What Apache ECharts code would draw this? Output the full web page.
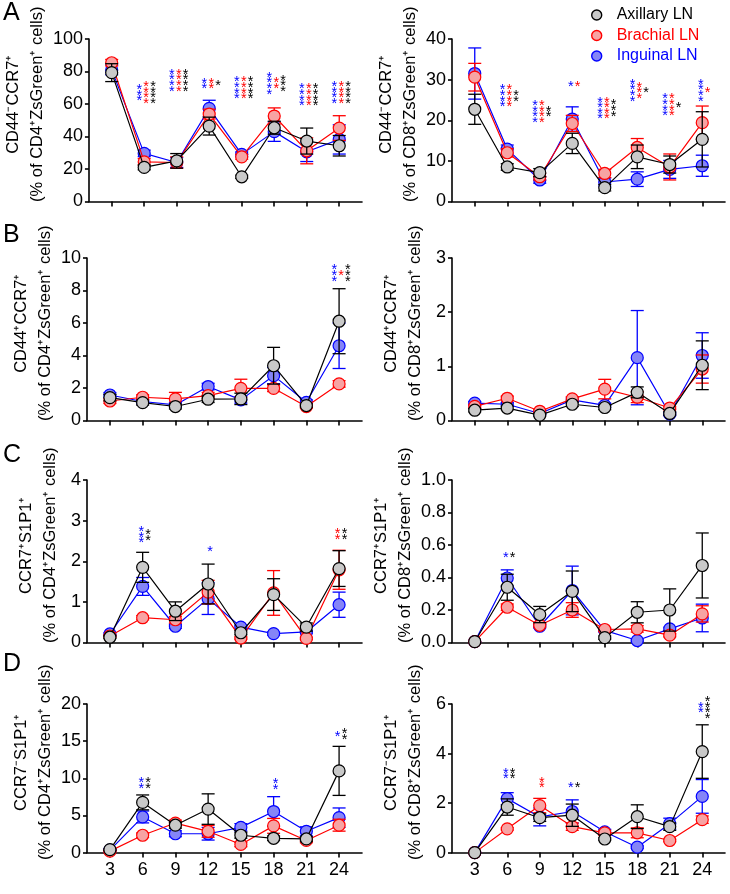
<!DOCTYPE html>
<html><head><meta charset="utf-8">
<script src="https://cdn.jsdelivr.net/npm/echarts@6/dist/echarts.min.js"></script>
<style>html,body{margin:0;padding:0;background:#fff}#c{width:730px;height:894px}</style>
</head><body><div id="c"></div>
<script>
// ---------------- DATA ----------------
const timepoints = [3, 6, 9, 12, 15, 18, 21, 24];
const seriesNames = ['Axillary LN', 'Brachial LN', 'Inguinal LN'];

// A left: CD44-CCR7+ (% of CD4+ZsGreen+)
const aCD4Axillary    = [79.3, 21.0, 25.0, 46.4, 15.2, 45.4, 37.2, 34.3];
const aCD4AxillarySem = [5.5, 1.5, 4.5, 5.5, 1.0, 4.0, 8.0, 6.3];
const aCD4Brachial    = [85.4, 24.4, 24.0, 53.8, 27.5, 52.6, 31.2, 45.2];
const aCD4BrachialSem = [2.0, 2.0, 3.5, 3.0, 1.5, 5.0, 8.0, 7.6];
const aCD4Inguinal    = [81.0, 29.6, 24.0, 57.3, 29.0, 43.0, 30.6, 38.2];
const aCD4InguinalSem = [3.0, 2.0, 3.0, 5.0, 1.5, 6.0, 6.0, 9.0];
// A right: CD44-CCR7+ (% of CD8+ZsGreen+)
const aCD8Axillary    = [22.7, 8.5, 7.1, 14.3, 3.4, 11.0, 9.1, 15.3];
const aCD8AxillarySem = [3.7, 0.8, 1.0, 2.5, 0.8, 2.9, 2.1, 6.8];
const aCD8Brachial    = [30.6, 12.0, 6.1, 19.2, 6.9, 13.3, 8.5, 19.4];
const aCD8BrachialSem = [3.4, 1.0, 0.8, 2.0, 1.0, 2.2, 3.2, 4.1];
const aCD8Inguinal    = [31.5, 12.9, 5.3, 20.3, 4.8, 5.5, 7.9, 8.8];
const aCD8InguinalSem = [6.3, 1.0, 0.8, 3.0, 1.0, 1.8, 2.2, 2.6];
// B left: CD44+CCR7+ (% of CD4+ZsGreen+)
const bCD4Axillary    = [1.41, 1.10, 0.86, 1.31, 1.33, 3.37, 0.92, 6.11];
const bCD4AxillarySem = [0.20, 0.15, 0.15, 0.20, 0.35, 1.13, 0.10, 2.00];
const bCD4Brachial    = [1.20, 1.43, 1.33, 1.53, 1.98, 1.98, 0.86, 2.25];
const bCD4BrachialSem = [0.15, 0.15, 0.40, 0.20, 0.56, 0.20, 0.10, 0.20];
const bCD4Inguinal    = [1.57, 1.17, 0.96, 2.09, 1.27, 2.76, 1.12, 4.60];
const bCD4InguinalSem = [0.15, 0.15, 0.15, 0.20, 0.20, 0.50, 0.15, 1.40];
// B right: CD44+CCR7+ (% of CD8+ZsGreen+)
const bCD8Axillary    = [0.19, 0.23, 0.10, 0.30, 0.24, 0.52, 0.13, 1.02];
const bCD8AxillarySem = [0.03, 0.03, 0.02, 0.04, 0.04, 0.10, 0.03, 0.45];
const bCD8Brachial    = [0.26, 0.41, 0.17, 0.40, 0.58, 0.43, 0.23, 0.95];
const bCD8BrachialSem = [0.03, 0.04, 0.03, 0.04, 0.18, 0.10, 0.03, 0.26];
const bCD8Inguinal    = [0.32, 0.30, 0.13, 0.38, 0.28, 1.16, 0.12, 1.20];
const bCD8InguinalSem = [0.03, 0.03, 0.02, 0.04, 0.04, 0.87, 0.03, 0.42];
// C left: CCR7+S1P1+ (% of CD4+ZsGreen+)
const cCD4Axillary    = [0.13, 1.85, 0.77, 1.44, 0.24, 1.18, 0.38, 1.82];
const cCD4AxillarySem = [0.03, 0.37, 0.23, 0.49, 0.05, 0.39, 0.10, 0.44];
const cCD4Brachial    = [0.16, 0.61, 0.56, 1.24, 0.11, 1.22, 0.10, 1.79];
const cCD4BrachialSem = [0.03, 0.05, 0.08, 0.29, 0.03, 0.55, 0.03, 0.48];
const cCD4Inguinal    = [0.21, 1.38, 0.40, 1.08, 0.38, 0.22, 0.26, 0.93];
const cCD4InguinalSem = [0.03, 0.22, 0.05, 0.39, 0.05, 0.04, 0.03, 0.31];
// C right: CCR7+S1P1+ (% of CD8+ZsGreen+)
const cCD8Axillary    = [0.005, 0.340, 0.172, 0.315, 0.030, 0.186, 0.200, 0.474];
const cCD8AxillarySem = [0.000, 0.080, 0.050, 0.125, 0.010, 0.065, 0.130, 0.200];
const cCD8Brachial    = [0.005, 0.217, 0.106, 0.200, 0.080, 0.084, 0.045, 0.176];
const cCD8BrachialSem = [0.000, 0.020, 0.010, 0.045, 0.010, 0.020, 0.010, 0.050];
const cCD8Inguinal    = [0.005, 0.397, 0.100, 0.320, 0.075, 0.012, 0.084, 0.151];
const cCD8InguinalSem = [0.000, 0.050, 0.010, 0.150, 0.010, 0.005, 0.010, 0.085];
// D left: CCR7-S1P1+ (% of CD4+ZsGreen+)
const dCD4Axillary    = [0.40, 6.76, 3.69, 5.86, 2.34, 1.93, 1.84, 11.0];
const dCD4AxillarySem = [0.10, 1.00, 0.40, 2.05, 0.40, 0.30, 0.30, 3.30];
const dCD4Brachial    = [0.20, 2.34, 3.98, 2.87, 1.10, 3.60, 1.64, 3.69];
const dCD4BrachialSem = [0.10, 0.30, 0.40, 0.80, 0.30, 1.00, 0.30, 0.80];
const dCD4Inguinal    = [0.33, 4.80, 2.54, 2.54, 3.40, 5.53, 2.87, 4.71];
const dCD4InguinalSem = [0.10, 0.80, 0.40, 0.85, 0.50, 2.00, 0.60, 1.30];
// D right: CCR7-S1P1+ (% of CD8+ZsGreen+)
const dCD8Axillary    = [0.00, 1.84, 1.41, 1.51, 0.55, 1.45, 1.05, 4.08];
const dCD8AxillarySem = [0.00, 0.33, 0.15, 0.45, 0.05, 0.48, 0.15, 1.08];
const dCD8Brachial    = [0.00, 0.96, 1.90, 1.05, 0.80, 0.80, 0.49, 1.33];
const dCD8BrachialSem = [0.00, 0.05, 0.29, 0.15, 0.10, 0.20, 0.05, 0.15];
const dCD8Inguinal    = [0.00, 2.18, 1.44, 1.66, 0.84, 0.22, 1.17, 2.27];
const dCD8InguinalSem = [0.00, 0.24, 0.36, 0.47, 0.10, 0.05, 0.22, 0.68];

// significance: [timepoint, y anchor (data units), # blue stars, # red stars, # black stars]
const aCD4Sig = [[6,67,3,4,4],[9,74.7,4,4,4],[12,72.7,2,2,1],[15,70,4,4,4],[18,72.8,4,2,3],[21,65.7,4,4,4],[24,67,4,4,4]];
const aCD8Sig = [[6,26,4,4,2],[9,22.2,4,4,2],[12,29,1,1,0],[15,23,4,4,3],[18,27.4,4,3,1],[21,23.8,4,4,1],[24,27.4,4,1,0]];
const bCD4Sig = [[24,9.08,3,1,3]];
const bCD8Sig = [];
const cCD4Sig = [[6,2.65,3,0,2],[12,2.31,1,0,0],[24,2.67,0,2,2]];
const cCD8Sig = [[6,0.536,1,0,1]];
const dCD4Sig = [[6,9.4,2,0,2],[18,9.2,2,0,0],[24,16,1,0,2]];
const dCD8Sig = [[6,3.2,2,0,2],[9,2.83,0,2,0],[12,2.74,1,0,1],[24,5.86,2,0,4]];

// y-axis ticks
const yTicksA4 = [0, 20, 40, 60, 80, 100];
const yTicksA8 = [0, 10, 20, 30, 40];
const yTicksB4 = [0, 2, 4, 6, 8, 10];
const yTicksB8 = [0, 1, 2, 3];
const yTicksC4 = [0, 1, 2, 3, 4];
const yTicksC8 = [0, 0.2, 0.4, 0.6, 0.8, 1.0];
const yTicksD4 = [0, 5, 10, 15, 20];
const yTicksD8 = [0, 2, 4, 6];

const rowTitles = ['CD44⁻CCR7⁺', 'CD44⁺CCR7⁺', 'CCR7⁺S1P1⁺', 'CCR7⁻S1P1⁺'];
const colTitles = ['(% of CD4⁺ZsGreen⁺ cells)', '(% of CD8⁺ZsGreen⁺ cells)'];
const panelLetters = ['A', 'B', 'C', 'D'];

// ---------------- BUILD ----------------
const panels = [
  {row:0,col:0,ticks:yTicksA4,dec:0,m:[aCD4Axillary,aCD4Brachial,aCD4Inguinal],e:[aCD4AxillarySem,aCD4BrachialSem,aCD4InguinalSem],sig:aCD4Sig},
  {row:0,col:1,ticks:yTicksA8,dec:0,m:[aCD8Axillary,aCD8Brachial,aCD8Inguinal],e:[aCD8AxillarySem,aCD8BrachialSem,aCD8InguinalSem],sig:aCD8Sig},
  {row:1,col:0,ticks:yTicksB4,dec:0,m:[bCD4Axillary,bCD4Brachial,bCD4Inguinal],e:[bCD4AxillarySem,bCD4BrachialSem,bCD4InguinalSem],sig:bCD4Sig},
  {row:1,col:1,ticks:yTicksB8,dec:0,m:[bCD8Axillary,bCD8Brachial,bCD8Inguinal],e:[bCD8AxillarySem,bCD8BrachialSem,bCD8InguinalSem],sig:bCD8Sig},
  {row:2,col:0,ticks:yTicksC4,dec:0,m:[cCD4Axillary,cCD4Brachial,cCD4Inguinal],e:[cCD4AxillarySem,cCD4BrachialSem,cCD4InguinalSem],sig:cCD4Sig},
  {row:2,col:1,ticks:yTicksC8,dec:1,m:[cCD8Axillary,cCD8Brachial,cCD8Inguinal],e:[cCD8AxillarySem,cCD8BrachialSem,cCD8InguinalSem],sig:cCD8Sig},
  {row:3,col:0,ticks:yTicksD4,dec:0,m:[dCD4Axillary,dCD4Brachial,dCD4Inguinal],e:[dCD4AxillarySem,dCD4BrachialSem,dCD4InguinalSem],sig:dCD4Sig},
  {row:3,col:1,ticks:yTicksD8,dec:0,m:[dCD8Axillary,dCD8Brachial,dCD8Inguinal],e:[dCD8AxillarySem,dCD8BrachialSem,dCD8InguinalSem],sig:dCD8Sig}
];

const FONT = '"Liberation Sans", Arial, Helvetica, sans-serif';
const strokeColors = ['#000000', '#ff0000', '#0000ff'];
const fillColors = ['#c9c9c9', '#f7a3a3', '#8585f7'];
const colLeft = [87, 452];
const colWidth = [275, 273];
const rowTop = [39, 258, 480, 704];
const plotH = 162.5;

const grids = [], xAxes = [], yAxes = [], series = [];

panels.forEach((p, i) => {
  grids.push({left: colLeft[p.col], top: rowTop[p.row], width: colWidth[p.col], height: plotH});
  xAxes.push({
    type: 'value', gridIndex: i, min: 0.9, max: 26.1,
    axisLine: {show: true, onZero: false, lineStyle: {color: '#000', width: 1.6}},
    axisTick: {show: true, customValues: timepoints, length: 5, lineStyle: {color: '#000', width: 1.6}},
    axisLabel: {show: p.row === 3, customValues: timepoints, margin: 8, fontSize: 18, color: '#000', fontFamily: FONT},
    splitLine: {show: false}
  });
  const yMax = p.ticks[p.ticks.length - 1];
  yAxes.push({
    type: 'value', gridIndex: i, min: 0, max: yMax, interval: p.ticks[1] - p.ticks[0],
    axisLine: {show: true, lineStyle: {color: '#000', width: 1.6}},
    axisTick: {show: true, length: 4, lineStyle: {color: '#000', width: 1.6}},
    axisLabel: {fontSize: 18, color: '#000', fontFamily: FONT, margin: 6,
      formatter: v => v.toFixed(p.dec)},
    splitLine: {show: false},
    name: rowTitles[p.row] + '\n' + colTitles[p.col],
    nameLocation: 'middle', nameRotate: 90, nameGap: 25,
    nameTextStyle: {fontSize: 16.5, lineHeight: 24, color: '#000', fontFamily: FONT, padding: [0, 0, 0, 32]}
  });

  // draw order: Inguinal (bottom), Brachial, Axillary (top)
  [2, 1, 0].forEach((s, k) => {
    const col = strokeColors[s];
    series.push({
      type: 'custom', xAxisIndex: i, yAxisIndex: i, z: 2 + k * 2, silent: true,
      data: timepoints.map((t, j) => [t, p.m[s][j], p.e[s][j]]),
      renderItem: (params, api) => {
        const x = api.value(0), m = api.value(1), e = api.value(2);
        if (!(e > 0)) return null;
        const top = api.coord([x, m + e]);
        const bot = api.coord([x, m - e]);
        const hw = 6.5;
        const st = {stroke: col, lineWidth: 1.3};
        return {type: 'group', children: [
          {type: 'line', shape: {x1: top[0], y1: top[1], x2: bot[0], y2: bot[1]}, style: st},
          {type: 'line', shape: {x1: top[0] - hw, y1: top[1], x2: top[0] + hw, y2: top[1]}, style: st},
          {type: 'line', shape: {x1: bot[0] - hw, y1: bot[1], x2: bot[0] + hw, y2: bot[1]}, style: st}
        ]};
      }
    });
    series.push({
      type: 'line', name: seriesNames[s], xAxisIndex: i, yAxisIndex: i, z: 3 + k * 2,
      data: timepoints.map((t, j) => [t, p.m[s][j]]),
      symbol: 'circle', symbolSize: 12, showSymbol: true, silent: true,
      lineStyle: {color: col, width: 1.2},
      itemStyle: {color: fillColors[s], borderColor: col, borderWidth: 1.2},
      emphasis: {disabled: true}
    });
  });

  // significance asterisks
  series.push({
    type: 'custom', xAxisIndex: i, yAxisIndex: i, z: 20, silent: true,
    data: p.sig,
    renderItem: (params, api) => {
      const pt = api.coord([api.value(0), api.value(1)]);
      const counts = [api.value(2), api.value(3), api.value(4)];
      const cols = ['#0000ff', '#ff0000', '#000000'];
      const present = [];
      counts.forEach((n, c) => { if (n > 0) present.push(c); });
      const spacing = 6.8;
      const children = present.map((c, j) => {
        const dx = 2 + (j - (present.length - 1) / 2) * spacing;
        return {type: 'text', style: {
          text: Array(counts[c]).fill('*').join('\n'),
          x: pt[0] + dx, y: pt[1] + 3,
          fill: cols[c], fontSize: 14.5, fontFamily: FONT, lineHeight: 5.6,
          align: 'center', verticalAlign: 'middle'
        }};
      });
      return {type: 'group', children};
    }
  });
});

const graphics = panelLetters.map((L, r) => ({
  type: 'text', left: 3, top: [1, 223, 443, 652][r],
  style: {text: L, fontSize: 25, fontFamily: FONT, fill: '#000'}
}));

const chart = echarts.init(document.getElementById('c'), null, {renderer: 'canvas'});
chart.setOption({
  animation: false,
  backgroundColor: '#fff',
  grid: grids, xAxis: xAxes, yAxis: yAxes, series,
  graphic: graphics,
  legend: {
    orient: 'vertical', left: 586, top: 2, itemWidth: 30, itemHeight: 10, itemGap: 4.5,
    selectedMode: false,
    itemStyle: {borderWidth: 1.4},
    textStyle: {fontSize: 16, fontFamily: FONT},
    data: [
      {name: 'Axillary LN', icon: 'circle', textStyle: {color: '#000'}},
      {name: 'Brachial LN', icon: 'circle', textStyle: {color: '#ff0000'}},
      {name: 'Inguinal LN', icon: 'circle', textStyle: {color: '#0000ff'}}
    ]
  }
});
</script></body></html>
